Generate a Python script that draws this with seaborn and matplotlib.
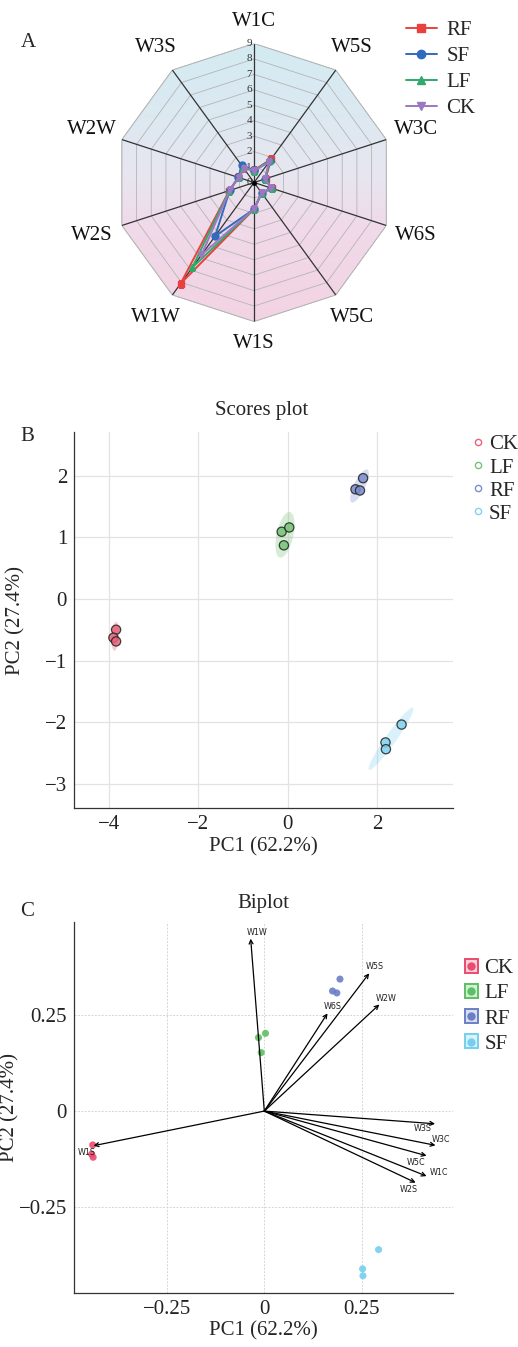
import numpy as np
import pandas as pd
import matplotlib
matplotlib.use("Agg")
import matplotlib.pyplot as plt
import seaborn as sns
from matplotlib.lines import Line2D
from matplotlib.patches import Ellipse, Polygon, Rectangle
from matplotlib.colors import LinearSegmentedColormap
from matplotlib.legend_handler import HandlerTuple

# ---------------- data ----------------
radar_axes = ["W1C", "W5S", "W3C", "W6S", "W5C", "W1S", "W1W", "W2S", "W2W", "W3S"]
radar_RF = [0.78, 1.88, 0.78, 1.20, 0.85, 1.72, 8.10, 1.68, 1.07, 1.20]
radar_SF = [0.78, 1.75, 0.75, 1.18, 0.82, 1.72, 4.30, 1.66, 1.07, 1.38]
radar_LF = [0.77, 1.78, 0.76, 1.20, 0.84, 1.72, 6.80, 1.68, 1.06, 1.24]
radar_CK = [0.76, 1.62, 0.74, 1.18, 0.83, 1.70, 5.80, 1.66, 1.05, 1.12]
radar_ticks = list(range(0, 10))

groups = ["CK", "LF", "RF", "SF"]
score_group = ["CK"] * 3 + ["LF"] * 3 + ["RF"] * 3 + ["SF"] * 3
score_pc1 = [-3.84, -3.90, -3.84, -0.14, 0.03, -0.09, 1.68, 1.51, 1.61, 2.54, 2.18, 2.19]
score_pc2 = [-0.50, -0.63, -0.69, 1.09, 1.16, 0.87, 1.96, 1.78, 1.76, -2.04, -2.33, -2.44]

bi_pc1 = [-0.440, -0.443, -0.439, 0.003, -0.015, -0.008, 0.194, 0.175, 0.186, 0.293, 0.252, 0.253]
bi_pc2 = [-0.088, -0.112, -0.120, 0.202, 0.191, 0.152, 0.343, 0.312, 0.307, -0.360, -0.410, -0.428]

load_names = ["W1W", "W5S", "W2W", "W6S", "W3S", "W3C", "W5C", "W1C", "W2S", "W1S"]
load_pc1 = [-0.035, 0.269, 0.295, 0.162, 0.438, 0.439, 0.416, 0.416, 0.388, -0.438]
load_pc2 = [0.448, 0.358, 0.277, 0.254, -0.033, -0.089, -0.116, -0.169, -0.186, -0.090]

# label placement (offset in points from arrow tip)
load_label_offsets = {"W1W": (4.6, 4.8), "W5S": (4.3, 4.6), "W2W": (4.6, 4.3), "W6S": (4.1, 4.8),
                      "W3S": (-8.6, -3.4), "W3C": (3.6, 4.3), "W5C": (-7.9, -4.6), "W1C": (9.1, 2.4),
                      "W2S": (-4.8, -4.8), "W1S": (-5.0, -4.8)}

# ---------------- style ----------------
sns.set_theme(style="white")
SERIF = ["Liberation Serif", "DejaVu Serif"]
plt.rcParams["font.family"] = SERIF
plt.rcParams["axes.unicode_minus"] = True
FS = 15

fig = plt.figure(figsize=(5.18, 13.47), dpi=100)

# ================= Panel A: radar =================
rectA = [0.222, 0.7613, 0.537, 0.2064]
axbg = fig.add_axes(rectA)
axbg.set_xlim(-9, 9)
axbg.set_ylim(-9, 9)
axbg.set_aspect("equal")
axbg.axis("off")
n = len(radar_axes)
ang_cart = np.deg2rad(90 - 360.0 * np.arange(n) / n)
verts = np.column_stack([9 * np.cos(ang_cart), 9 * np.sin(ang_cart)])
poly = Polygon(verts, closed=True, facecolor="none", edgecolor="#bbbbbb", lw=0.6)
axbg.add_patch(poly)
cmap = LinearSegmentedColormap.from_list(
    "bg", [(0.0, "#f3d3e4"), (0.35, "#f0dae9"), (0.52, "#e8e6f0"), (0.75, "#dce9f1"), (1.0, "#d3ebf2")])
grad = np.linspace(0, 1, 256).reshape(-1, 1)
im = axbg.imshow(grad, extent=[-9, 9, -9, 9], origin="lower", aspect="auto", cmap=cmap, zorder=0)
im.set_clip_path(poly)

axA = fig.add_axes(rectA, projection="polar")
axA.set_facecolor("none")
axA.set_theta_zero_location("N")
axA.set_theta_direction(-1)
axA.grid(False)
axA.spines["polar"].set_visible(False)
axA.set_xticks([])
axA.set_yticks([])
axA.set_ylim(0, 9)
theta = 2 * np.pi * np.arange(n) / n
theta_c = np.append(theta, theta[0])
for r in radar_ticks[1:]:
    axA.plot(theta_c, [r] * (n + 1), color="#b5b5b5", lw=0.6, zorder=1)
for t in theta:
    axA.plot([t, t], [0, 9], color="#333333", lw=0.9, zorder=2)
for r in radar_ticks:
    axA.annotate(str(r), xy=(0, r), xytext=(-1.5, 0), textcoords="offset points",
                 ha="right", va="center", fontsize=8, color="#333333", zorder=3)
axA.plot([0], [0], "o", color="black", ms=2.5, zorder=6)

series = [("RF", radar_RF, "#e8423f", "s"), ("SF", radar_SF, "#2f6bbf", "o"),
          ("LF", radar_LF, "#2eaa6a", "^"), ("CK", radar_CK, "#9c78c0", "v")]
handlesA = []
for name, vals, col, mk in series:
    v = np.append(vals, vals[0])
    axA.plot(theta_c, v, color=col, lw=1.4, marker=mk, ms=5, zorder=4)
    handlesA.append(Line2D([], [], color=col, lw=1.4, marker=mk, ms=6, label=name))

for t, lab in zip(theta, radar_axes):
    rl = 10.45 + 0.6 * abs(np.sin(t))
    axA.text(t, rl, lab, ha="center", va="center", fontsize=FS, color="#111111")

fig.legend(handles=handlesA, loc="upper left", bbox_to_anchor=(0.783, 0.9845), frameon=False,
           fontsize=FS, handlelength=1.5, handletextpad=0.45, labelspacing=0.3, borderpad=0,
           borderaxespad=0)
fig.text(0.054, 0.9688, "A", fontsize=FS, ha="center", va="center")

# ================= Panel B: scores =================
colB = {"CK": "#e8627b", "LF": "#74c476", "RF": "#7b8dcf", "SF": "#82d3ef"}
dfB = pd.DataFrame({"PC1": score_pc1, "PC2": score_pc2, "group": score_group})
axB = fig.add_axes([0.1429, 0.3999, 0.7317, 0.2794])
axB.set_xlim(-4.78, 3.69)
axB.set_ylim(-3.40, 2.71)
axB.set_xticks([-4, -2, 0, 2])
axB.set_yticks([-3, -2, -1, 0, 1, 2])
axB.grid(True, color="#e3e3e3", lw=0.9)
axB.set_axisbelow(True)
chi = np.sqrt(5.991)
for g in groups:
    sub = dfB[dfB.group == g]
    cov = np.cov(sub.PC1, sub.PC2)
    w, vecs = np.linalg.eigh(cov)
    order = w.argsort()[::-1]
    w, vecs = w[order], vecs[:, order]
    angle = np.degrees(np.arctan2(vecs[1, 0], vecs[0, 0]))
    e = Ellipse((sub.PC1.mean(), sub.PC2.mean()), 2 * chi * np.sqrt(w[0]), 2 * chi * np.sqrt(max(w[1], 1e-6)),
                angle=angle, facecolor=colB[g], alpha=0.3, edgecolor="none", zorder=1)
    axB.add_patch(e)
sns.scatterplot(data=dfB, x="PC1", y="PC2", hue="group", palette=colB, s=44, edgecolor="#222222",
                linewidth=0.9, alpha=0.85, legend=False, ax=axB, zorder=3)
for s in ["top", "right"]:
    axB.spines[s].set_visible(False)
for s in ["left", "bottom"]:
    axB.spines[s].set_color("#333333")
    axB.spines[s].set_linewidth(0.9)
axB.tick_params(labelsize=FS, length=0, pad=5, colors="#222222")
axB.set_xlabel("PC1 (62.2%)", fontsize=FS, labelpad=2)
axB.set_ylabel("PC2 (27.4%)", fontsize=FS)
axB.yaxis.set_label_coords(-0.129, 0.5)
fig.text(0.506, 0.695, "Scores plot", fontsize=FS, ha="center", va="center")
fig.text(0.052, 0.6763, "B", fontsize=FS, ha="center", va="center")
handlesB = [Line2D([], [], marker="o", ls="none", mfc="none", mec=colB[g], mew=1.0, ms=4.5, label=g)
            for g in groups]
fig.legend(handles=handlesB, loc="upper left", bbox_to_anchor=(0.912, 0.6772), frameon=False,
           fontsize=FS, handlelength=0.5, handletextpad=0.3, labelspacing=0.17, borderpad=0,
           borderaxespad=0)

# ================= Panel C: biplot =================
colC = {"CK": "#ea4b6e", "LF": "#5cbf63", "RF": "#6a7fc5", "SF": "#74cfee"}
dfC = pd.DataFrame({"PC1": bi_pc1, "PC2": bi_pc2, "group": score_group})
axC = fig.add_axes([0.1429, 0.0403, 0.7317, 0.2754])
axC.set_xlim(-0.488, 0.484)
axC.set_ylim(-0.472, 0.492)
axC.set_xticks([-0.25, 0, 0.25])
axC.set_xticklabels(["\u22120.25", "0", "0.25"])
axC.set_yticks([-0.25, 0, 0.25])
axC.set_yticklabels(["\u22120.25", "0", "0.25"])
axC.grid(True, color="#d5d5d5", lw=0.7, ls=(0, (2, 1.5)))
axC.set_axisbelow(True)
sns.scatterplot(data=dfC, x="PC1", y="PC2", hue="group", palette=colC, s=26, edgecolor="none",
                alpha=0.9, legend=False, ax=axC, zorder=3)
for name, x, y in zip(load_names, load_pc1, load_pc2):
    axC.annotate("", xy=(x, y), xytext=(0, 0),
                 arrowprops=dict(arrowstyle="->", lw=0.9, color="black", shrinkA=0, shrinkB=0,
                                 mutation_scale=7), zorder=4)
    dx, dy = load_label_offsets[name]
    axC.annotate(name, xy=(x, y), xytext=(dx, dy), textcoords="offset points", ha="center",
                 va="center", fontsize=5.8, family=["DejaVu Sans"], color="#222222", zorder=5)
for s in ["top", "right"]:
    axC.spines[s].set_visible(False)
for s in ["left", "bottom"]:
    axC.spines[s].set_color("#333333")
    axC.spines[s].set_linewidth(0.9)
axC.tick_params(labelsize=FS, length=0, pad=5, colors="#222222")
axC.set_xlabel("PC1 (62.2%)", fontsize=FS, labelpad=2)
axC.set_ylabel("PC2 (27.4%)", fontsize=FS)
axC.yaxis.set_label_coords(-0.145, 0.5)
fig.text(0.508, 0.3296, "Biplot", fontsize=FS, ha="center", va="center")
fig.text(0.052, 0.323, "C", fontsize=FS, ha="center", va="center")
handlesC = []
for g in groups:
    box = Rectangle((0, 0), 1, 1, facecolor=colC[g], alpha=0.25, edgecolor="none")
    edge = Rectangle((0, 0), 1, 1, facecolor="none", edgecolor=colC[g], lw=1.4)
    dot = Line2D([], [], marker="o", ls="none", color=colC[g], ms=5)
    handlesC.append((box, edge, dot))
fig.legend(handles=handlesC, labels=groups, handler_map={tuple: HandlerTuple(ndivide=1, pad=0)},
           loc="upper left", bbox_to_anchor=(0.897, 0.2880), frameon=False, fontsize=FS,
           handlelength=0.65, handleheight=0.65, handletextpad=0.3, labelspacing=0.28,
           borderpad=0, borderaxespad=0)

fig.savefig("out.png", dpi=100)
